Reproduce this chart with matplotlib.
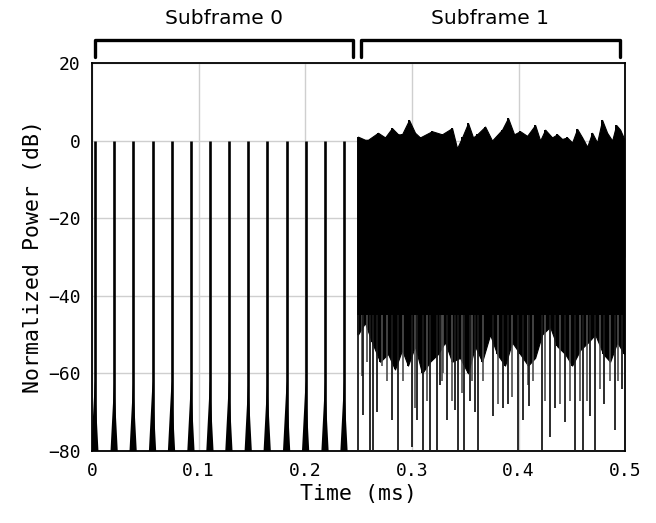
import numpy as np
import matplotlib
matplotlib.use("Agg")
import matplotlib.pyplot as plt
from matplotlib.transforms import blended_transform_factory

# ---- data (time in ms, power in dB) ----
# Subframe 0: sharp pulses
pulse_t = [0.0028, 0.0209, 0.0387, 0.0569, 0.0747, 0.0929, 0.1107,
           0.1285, 0.1466, 0.1644, 0.1826, 0.2004, 0.2186, 0.2364]
pulse_peak = [0, 0, 0, 0, 0, 0, 0, 0, 0, 0, 0, 0, 0, 0]
pulse_skirt = -62  # level where the pulse skirt narrows to a line

# Subframe 1: noise-like signal, upper envelope
top_t = [0.2495, 0.2561, 0.2589, 0.2683, 0.2749, 0.2814, 0.2871, 0.2908,
         0.2974, 0.3030, 0.3077, 0.3189, 0.3283, 0.3377, 0.3424, 0.3471,
         0.3527, 0.3574, 0.3612, 0.3687, 0.3752, 0.3846, 0.3902, 0.3959,
         0.4015, 0.4081, 0.4156, 0.4203, 0.4250, 0.4315, 0.4362, 0.4409,
         0.4456, 0.4503, 0.4550, 0.4597, 0.4644, 0.4690, 0.4737, 0.4784,
         0.4831, 0.4878, 0.4916, 0.4953, 0.4991]
top_db = [1.0, 0.2, 0.2, 2.0, 0.8, 3.2, 1.6, 1.6, 5.3, 2.0, 0.8, 2.4, 1.6,
          3.2, -2.0, 0.8, 4.5, 0.8, 1.6, 3.6, 0.0, 2.8, 5.8, 1.6, 2.4, 1.2,
          4.0, 0.0, 2.8, 0.8, 1.6, 0.4, 0.8, -0.5, 3.0, 0.8, -1.6, 2.0,
          -0.5, 5.3, 2.0, 0.0, 4.0, 2.8, 0.4]

# lower edge of the dense part
bot_t = [0.2495, 0.2561, 0.2627, 0.2702, 0.2777, 0.2842, 0.2908, 0.2964,
         0.3030, 0.3096, 0.3171, 0.3246, 0.3311, 0.3377, 0.3452, 0.3527,
         0.3593, 0.3659, 0.3734, 0.3799, 0.3874, 0.3940, 0.4015, 0.4090,
         0.4156, 0.4221, 0.4296, 0.4362, 0.4437, 0.4503, 0.4578, 0.4653,
         0.4719, 0.4794, 0.4859, 0.4925, 0.4991]
bot_db = [-50, -47, -52, -57, -55, -59, -54, -58, -53, -60, -57, -55, -52,
          -57, -56, -60, -53, -57, -50, -55, -58, -52, -55, -58, -56, -50,
          -48, -53, -55, -58, -54, -52, -50, -55, -57, -52, -55]

# shallower dips just under the dense part
mid_t = [0.2530, 0.2577, 0.2718, 0.2765, 0.2920, 0.3030, 0.3140, 0.3281,
         0.3296, 0.3374, 0.3468, 0.3562, 0.3671, 0.3811, 0.3937, 0.4093,
         0.4140, 0.4250, 0.4390, 0.4484, 0.4578, 0.4641, 0.4765, 0.4859,
         0.4937]
mid_db = [-60.7, -57, -58, -62, -62, -69, -67, -62, -60, -67, -65, -62, -62,
          -68, -66, -63, -62, -67, -68, -67, -67, -67, -64, -62, -62]

# deep dips below the dense part
dip_t = [0.2495, 0.2545, 0.2608, 0.2639, 0.2676, 0.2811, 0.2873, 0.2999,
         0.3046, 0.3108, 0.3171, 0.3234, 0.3265, 0.3327, 0.3405, 0.3436,
         0.3490, 0.3546, 0.3593, 0.3624, 0.3765, 0.3858, 0.3905, 0.3999,
         0.4046, 0.4102, 0.4219, 0.4296, 0.4343, 0.4437, 0.4531, 0.4609,
         0.4672, 0.4719, 0.4803, 0.4906, 0.4969]
dip_db = [-80, -70.7, -80, -80, -70, -72, -80, -79, -72, -80, -80, -80, -63,
          -72, -69.4, -80, -80, -67, -70, -80, -71, -69, -68, -80, -72, -68.5,
          -80, -76.5, -69, -72.5, -80, -80, -71, -80, -68, -74.5, -64]

subframes = ["Subframe 0", "Subframe 1"]
subframe_span = [(0.003, 0.245), (0.252, 0.495)]

x_ticks = [0, 0.1, 0.2, 0.3, 0.4, 0.5]
x_ticklabels = ["0", "0.1", "0.2", "0.3", "0.4", "0.5"]
y_ticks = [-80, -60, -40, -20, 0, 20]

# ---- figure ----
mono = "DejaVu Sans Mono"
fig = plt.figure(figsize=(6.56, 5.23), dpi=100)
ax = fig.add_axes([0.140, 0.1377, 0.813, 0.742])

# pulses of subframe 0
half_w = 0.0034
for t, p in zip(pulse_t, pulse_peak):
    ax.vlines(t, -80, p, color="black", lw=1.9, zorder=3)
    ax.fill([t - half_w, t, t + half_w], [-80, pulse_skirt, -80],
            color="black", lw=0, zorder=3)

# dense signal of subframe 1
ax.fill_between(top_t, top_db, -30, color="black", lw=0.8,
                edgecolor="black", zorder=3)
ax.vlines(top_t, -30, top_db, color="black", lw=1.4, zorder=3)
ax.fill_between(bot_t, -10, bot_db, color="black", lw=0.8,
                edgecolor="black", zorder=3)
ax.vlines(bot_t, bot_db, -30, color="black", lw=1.4, zorder=3)
ax.vlines(mid_t, mid_db, -45, color="#4d4d4d", lw=1.2, zorder=3)
ax.vlines(dip_t, dip_db, -45, color="#1a1a1a", lw=1.3, zorder=3)

ax.set_xlim(0, 0.5)
ax.set_ylim(-80, 20)
ax.set_xticks(x_ticks)
ax.set_xticklabels(x_ticklabels)
ax.set_yticks(y_ticks)
ax.grid(True, color="#cfcfcf", lw=1.0, zorder=0)
ax.set_axisbelow(True)
ax.tick_params(length=0, labelsize=13, pad=8)
for lab in ax.get_xticklabels() + ax.get_yticklabels():
    lab.set_family(mono)
for s in ax.spines.values():
    s.set_linewidth(1.3)

ax.set_xlabel("Time (ms)", family=mono, fontsize=15.5, labelpad=3)
ax.set_ylabel("Normalized Power (dB)", family=mono, fontsize=15.5,
              labelpad=4)

# brackets over the two subframes
tr = blended_transform_factory(ax.transData, ax.transAxes)
for name, (a, b) in zip(subframes, subframe_span):
    ax.plot([a, a, b, b], [1.015, 1.058, 1.058, 1.015], color="black",
            lw=2.4, transform=tr, clip_on=False, solid_joinstyle="round",
            solid_capstyle="round")
    ax.text((a + b) / 2, 1.115, name, transform=tr, ha="center",
            va="center", fontsize=14.5, family="DejaVu Sans")

fig.savefig("out.png", dpi=100)
